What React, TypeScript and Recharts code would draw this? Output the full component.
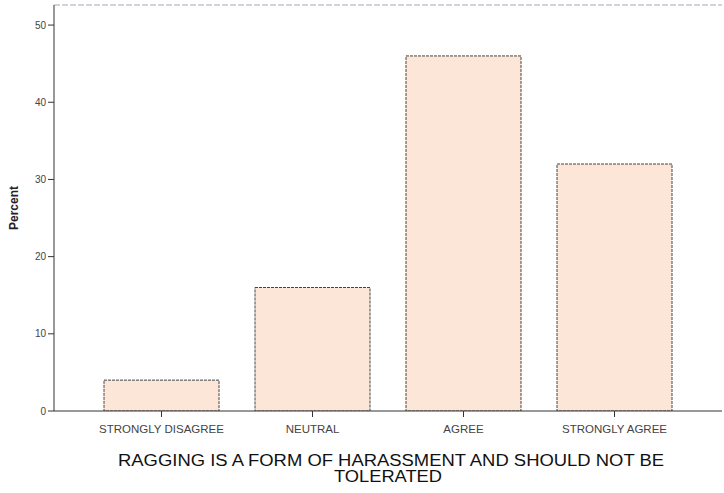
import { BarChart, Bar, XAxis, YAxis, ReferenceLine } from 'recharts'

const categories = ['STRONGLY DISAGREE', 'NEUTRAL', 'AGREE', 'STRONGLY AGREE']
const percents = [4, 16, 46, 32]
const yTicks = [0, 10, 20, 30, 40, 50]
const titleLines = ['RAGGING IS A FORM OF HARASSMENT AND SHOULD NOT BE', 'TOLERATED']

const data = categories.map((name, i) => ({ name, pct: percents[i] }))
const yMax = 52.6
const font = 'Liberation Sans, Arial, sans-serif'

function XTitle({ viewBox }: any) {
  const cx = 391
  return (
    <g fontFamily={font} fontSize={16} fill="#111" textAnchor="middle">
      <text x={cx} y={viewBox.y + 55} textLength={546} lengthAdjust="spacingAndGlyphs">{titleLines[0]}</text>
      <text x={cx - 3} y={viewBox.y + 71} textLength={108} lengthAdjust="spacingAndGlyphs">{titleLines[1]}</text>
    </g>
  )
}

function YTitle({ viewBox }: any) {
  const cy = viewBox.y + viewBox.height / 2
  return (
    <text x={18} y={cy} transform={`rotate(-90 18 ${cy})`} textAnchor="middle" fontFamily={font} fontSize={12} fontWeight="bold" fill="#222">
      Percent
    </text>
  )
}

export default function App() {
  return (
    <div style={{ width: 724, height: 493, background: '#fff' }}>
      <style>{'body{margin:0}'}</style>
      <BarChart width={724} height={493} data={data} margin={{ top: 5, right: 2, left: 0, bottom: 52 }} barCategoryGap={18}>
        <ReferenceLine y={yMax} stroke="#a8a8b8" strokeWidth={1} strokeDasharray="6 2" />
        <XAxis
          dataKey="name"
          height={30}
          padding={{ left: 32, right: 32 }}
          stroke="#333"
          tickSize={6}
          tickMargin={8}
          tick={{ fontSize: 11.5, fill: '#444', fontFamily: font }}
          tickLine={{ stroke: '#333' }}
          label={<XTitle />}
        />
        <YAxis
          width={54}
          domain={[0, yMax]}
          ticks={yTicks}
          stroke="#333"
          tickSize={6}
          tickMargin={2}
          tick={{ fontSize: 10, fill: '#444', fontFamily: font }}
          label={<YTitle />}
          allowDataOverflow
        />
        <Bar dataKey="pct" fill="#fce6d8" stroke="#444" strokeWidth={1} strokeDasharray="3 1" isAnimationActive={false} />
      </BarChart>
    </div>
  )
}
